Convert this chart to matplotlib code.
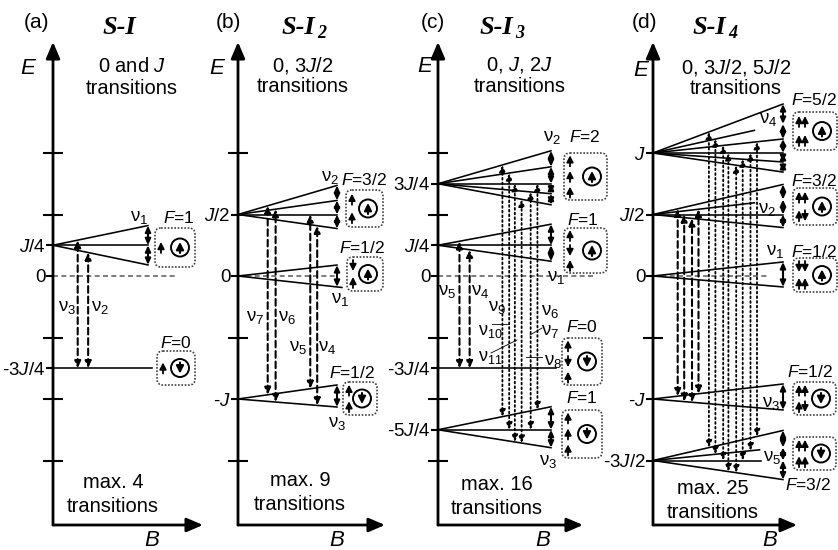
import matplotlib
matplotlib.use('Agg')
import matplotlib.pyplot as plt
from matplotlib.patches import FancyBboxPatch, Circle, FancyArrowPatch
from matplotlib.lines import Line2D
from matplotlib.transforms import Affine2D

plt.rcParams['font.family'] = ['Liberation Sans', 'DejaVu Sans']
plt.rcParams['mathtext.fontset'] = 'custom'
plt.rcParams['mathtext.rm'] = 'Liberation Sans'
plt.rcParams['mathtext.it'] = 'Liberation Sans:italic'
plt.rcParams['mathtext.bf'] = 'Liberation Sans:bold'

# ---------------- data: energies in units of J, field B normalised (fan end = 1) ----
B_MAX = 1.0

# (a) S-I
a_E0 = [0.25, -0.75]
a_split = [[0.16, 0.0, -0.16], [0.0]]
a_end = [[1, 1, 1], [1.04]]
a_dashed = [(0.26, 0, 0, 1, 0), (0.37, 0, 2, 1, 0)]
a_dotted = []
a_zero_end = 1.28
a_tick_vals = [0.25, 0, -0.75]
a_tick_labels = ['$J$/4', '0', '-3$J$/4']
a_minor = [1, 0.5, -0.5, -1, -1.5]

# (b) S-I2
b_E0 = [0.5, 0.0, -1.0]
b_split = [[0.236, 0.114, 0.0, -0.114], [0.089, -0.089], [0.114, -0.065]]
b_end = [[1, 1, 1, 1], [1, 1.05], [1, 1]]
b_dashed = [(0.30, 0, 0, 2, 0), (0.38, 0, 1, 2, 1), (0.73, 0, 2, 2, 0), (0.80, 0, 3, 2, 1)]
b_dotted = []
b_zero_end = 1.0
b_tick_vals = [0.5, 0, -1]
b_tick_labels = ['$J$/2', '0', '-$J$']
b_minor = [1, -0.5, -1.5]

# (c) S-I3
c_E0 = [0.75, 0.25, -0.75, -1.25]
c_split = [[0.268, 0.138, 0.0, -0.081, -0.171], [0.171, 0.0, -0.13], [0.0],
           [0.187, 0.0, -0.146]]
c_end = [[1, 1, 1, 1, 1], [1, 1, 1], [1.04], [1, 1, 1]]
c_dashed = [(0.19, 1, 0, 2, 0), (0.28, 1, 2, 2, 0)]
c_dotted = [(0.57, 0, 0, 3, 0), (0.63, 0, 1, 3, 1), (0.68, 0, 2, 3, 2),
            (0.74, 0, 4, 3, 2), (0.82, 0, 3, 3, 1), (0.88, 0, 2, 3, 0)]
c_zero_end = 1.39
c_tick_vals = [0.75, 0.25, 0, -0.75, -1.25]
c_tick_labels = ['3$J$/4', '$J$/4', '0', '-3$J$/4', '-5$J$/4']
c_minor = [1, 0.5, -0.5, -1, -1.5]

# (d) S-I4
d_E0 = [1.0, 0.5, 0.0, -1.0, -1.5]
d_split = [[0.398, 0.236, 0.114, 0.0, -0.073, -0.155], [0.244, 0.122, 0.0, -0.106],
           [0.114, -0.089], [0.122, -0.089], [0.244, 0.106, 0.0, -0.155]]
d_end = [[1, 0.78, 1, 1, 1, 1], [1, 0.78, 1, 1], [1, 1], [1, 1], [1, 0.82, 0.83, 1]]
d_dashed = [(0.19, 1, 0, 3, 0), (0.24, 1, 2, 3, 1), (0.30, 1, 3, 3, 1), (0.35, 1, 1, 3, 0)]
d_dotted = [(0.43, 0, 0, 4, 0), (0.48, 0, 1, 4, 1), (0.54, 0, 2, 4, 2), (0.58, 0, 3, 4, 3),
            (0.64, 0, 5, 4, 3), (0.69, 0, 4, 4, 2), (0.75, 0, 3, 4, 1), (0.80, 0, 2, 4, 0)]
d_zero_end = 0.88
d_tick_vals = [1, 0.5, 0, -1, -1.5]
d_tick_labels = ['$J$', '$J$/2', '0', '-$J$', '-3$J$/2']
d_minor = [-0.5]

# ---------------- layout ----------------
W, H = 838, 550
E0_PX, PX_PER_J, AX_TOP, AX_BOT = 276, 123, 42, 525
GEOM = {'a': (53, 148, 203), 'b': (238, 337, 385), 'c': (438, 551, 583), 'd': (653, 783, 797)}

fig = plt.figure(figsize=(W / 100, H / 100), dpi=100)
PX = Affine2D().scale(1 / W, -1 / H).translate(0, 1) + fig.transFigure

HEAD = '<|-|>,head_length=0.45,head_width=0.2'


def draw_panel(geom, E0, split, end, dashed, dotted, zero_end, tv, tl, minor):
    x0, xf, xa = geom
    ax = fig.add_axes([x0 / W, 1 - AX_BOT / H, (xa - x0) / W, (AX_BOT - AX_TOP) / H])
    ax.set_xlim(0, (xa - x0) / (xf - x0))
    ax.set_ylim((E0_PX - AX_BOT) / PX_PER_J, (E0_PX - AX_TOP) / PX_PER_J)
    ax.patch.set_alpha(0)
    for s in ax.spines.values():
        s.set_visible(False)
    ax.set_xticks([])
    ax.set_yticks(tv, tl)
    ax.set_yticks(minor, minor=True)
    ax.yaxis.set_minor_formatter(plt.NullFormatter())
    ax.tick_params(axis='y', which='major', direction='out', length=5, width=1.5,
                   labelsize=13.5, pad=0.5)
    ax.tick_params(axis='y', which='minor', direction='inout', length=14, width=1.5)
    arr = dict(arrowstyle='-|>,head_length=0.7,head_width=0.3', lw=2.0, color='k',
               shrinkA=0, shrinkB=0, mutation_scale=14)
    ax.annotate('', xy=(0, 1), xytext=(0, 0), xycoords='axes fraction', arrowprops=arr,
                annotation_clip=False)
    ax.annotate('', xy=(1, 0), xytext=(0, 0), xycoords='axes fraction', arrowprops=arr,
                annotation_clip=False)
    ax.plot([0, zero_end], [0, 0], color='0.4', lw=1.2, ls=(0, (3, 2)), clip_on=False)
    for e0, sp, en in zip(E0, split, end):
        for s, b in zip(sp, en):
            ax.plot([0, b], [e0, e0 + s * b], color='k', lw=1.15, clip_on=False)
        ys = sorted(e0 + s * B_MAX for s in sp)
        for y1, y2 in zip(ys[:-1], ys[1:]):
            ax.annotate('', xy=(B_MAX, y2), xytext=(B_MAX, y1),
                        arrowprops=dict(arrowstyle=HEAD, lw=1.5, color='k', shrinkA=0,
                                        shrinkB=0, mutation_scale=8),
                        annotation_clip=False)
    for trans, ls, lw in ((dashed, (0, (3.2, 1.8)), 1.5), (dotted, (0, (1, 1.6)), 1.3)):
        for b, m1, j1, m2, j2 in trans:
            y1 = E0[m1] + split[m1][j1] * b
            y2 = E0[m2] + split[m2][j2] * b
            ax.annotate('', xy=(b, y1), xytext=(b, y2),
                        arrowprops=dict(arrowstyle=HEAD, lw=lw, ls=ls, color='k',
                                        shrinkA=0, shrinkB=0, mutation_scale=9),
                        annotation_clip=False)
    return ax


draw_panel(GEOM['a'], a_E0, a_split, a_end, a_dashed, a_dotted, a_zero_end,
           a_tick_vals, a_tick_labels, a_minor)
draw_panel(GEOM['b'], b_E0, b_split, b_end, b_dashed, b_dotted, b_zero_end,
           b_tick_vals, b_tick_labels, b_minor)
draw_panel(GEOM['c'], c_E0, c_split, c_end, c_dashed, c_dotted, c_zero_end,
           c_tick_vals, c_tick_labels, c_minor)
draw_panel(GEOM['d'], d_E0, d_split, d_end, d_dashed, d_dotted, d_zero_end,
           d_tick_vals, d_tick_labels, d_minor)


def T(x, y, s, size=14, **kw):
    kw.setdefault('ha', 'center')
    kw.setdefault('va', 'center')
    return fig.text(x, y, s, transform=PX, fontsize=size, **kw)


def title(x, y, sub):
    T(x, y, 'S-I', 19, ha='left', family='Liberation Serif', weight='bold', style='italic')
    if sub:
        T(x + 35, y + 7, sub, 13, ha='left', family='Liberation Serif', weight='bold',
          style='italic')


def small_arrow(x, y, up, half=5.5, lw=1.3, scale=7):
    y1, y2 = (y + half, y - half) if up else (y - half, y + half)
    fig.add_artist(FancyArrowPatch((x, y1), (x, y2), transform=PX,
                                   arrowstyle='-|>,head_length=0.55,head_width=0.28',
                                   mutation_scale=scale, lw=lw, color='k',
                                   shrinkA=0, shrinkB=0))


def spin_box(x, y, w, h, rows, core):
    fig.add_artist(FancyBboxPatch((x, y), w, h, boxstyle='round,pad=0,rounding_size=6',
                                  transform=PX, fill=False, ec='0.25', lw=1.2,
                                  ls=(0, (1, 1))))
    n = len(rows)
    for i, row in enumerate(rows):
        yy = y + h * (i + 0.5) / n
        for k, ch in enumerate(row):
            small_arrow(x + 6 + 6 * k, yy, ch == '↑', half=min(5.5, h / n / 2 - 0.5))
    cx, cy = x + w - 15, y + h / 2
    fig.add_artist(Circle((cx, cy), 9, transform=PX, fill=False, lw=1.4, ec='k'))
    small_arrow(cx, cy, core == '↑', half=5.5, lw=1.5, scale=8)


# panel letters, titles, headers
for (x, lab) in [(36, '(a)'), (228, '(b)'), (433, '(c)'), (644, '(d)')]:
    T(x, 23, lab, 15)
title(103, 27, '')
title(282, 27, '2')
title(480, 27, '3')
title(693, 27, '4')

headers = [(132, 67, '0 and $J$'), (303, 65, '0, 3$J$/2'), (520, 65, '0, $J$, 2$J$'),
           (736, 67, '0, 3$J$/2, 5$J$/2')]
for x, y, s in headers:
    T(x, y, s, 14.5)
    T(x, y + 21, 'transitions', 14.5)

for x, y in [(29, 68), (218, 68), (426, 66), (642, 70)]:
    T(x, y, '$E$', 16)
for x in [152, 337, 543, 770]:
    T(x, 541, '$B$', 16)

for x, y, n in [(113, 482, '4'), (300, 480, '9'), (497, 485, '16'), (713, 488, '25')]:
    T(x, y, 'max. ' + n, 14.5)
    T(x, y + 24, 'transitions', 14.5)

# nu labels
nus = [(139, 218, '1'), (67, 308, '3'), (100, 308, '2'),
       (330, 178, '2'), (340, 300, '1'), (337, 423, '3'), (255, 317, '7'), (287, 317, '6'),
       (298, 347, '5'), (327, 348, '4'),
       (552, 137, '2'), (556, 278, '1'), (548, 462, '3'), (447, 291, '5'), (480, 292, '4'),
       (497, 308, '9'), (490, 331, '10'), (490, 357, '11'), (550, 311, '6'),
       (550, 331, '7'), (553, 361, '8'),
       (768, 120, '4'), (767, 210, '2'), (775, 252, '1'), (771, 404, '3'), (772, 458, '5')]
for x, y, n in nus:
    T(x, y, 'ν$_{%s}$' % n, 13 if len(n) > 1 else 13.5)

# F labels
Fs = [(179, 218, '1'), (176, 343, '0'),
      (364, 180, '3/2'), (362, 248, '1/2'), (352, 373, '1/2'),
      (585, 137, '2'), (583, 220, '1'), (582, 327, '0'), (582, 398, '1'),
      (814, 100, '5/2'), (814, 181, '3/2'), (814, 252, '1/2'), (810, 372, '1/2'),
      (808, 485, '3/2')]
for x, y, f in Fs:
    T(x, y, '$F$=' + f, 12.5)

# leader lines (panel c)
for (x1, y1), (x2, y2) in [((492, 324), (508, 324)), ((491, 353), (517, 340)),
                           ((530, 335), (542, 328)), ((526, 357), (542, 357))]:
    fig.add_artist(Line2D([x1, x2], [y1, y2], transform=PX, color='k', lw=0.6))

# spin-configuration boxes
boxes = [(155, 228, 40, 39, ['↑'], '↑'), (157, 351, 38, 34, ['↑'], '↓'),
         (346, 190, 37, 37, ['↑', '↑'], '↑'), (347, 257, 36, 34, ['↓', '↑'], '↑'),
         (343, 382, 34, 33, ['↑', '↑'], '↓'),
         (564, 153, 43, 47, ['↑', '↑', '↑'], '↑'), (564, 228, 43, 45, ['↑', '↓', '↑'], '↑'),
         (562, 338, 40, 47, ['↑', '↓', '↑'], '↓'), (562, 410, 40, 48, ['↑', '↑', '↑'], '↓'),
         (793, 112, 44, 38, ['↑↑', '↑↑'], '↑'), (793, 188, 44, 37, ['↑↑', '↑↓'], '↑'),
         (793, 258, 44, 34, ['↓↓', '↑↑'], '↑'), (793, 382, 43, 33, ['↑↑', '↑↓'], '↓'),
         (793, 437, 43, 33, ['↑↑', '↑↑'], '↓')]
for b in boxes:
    spin_box(*b)

fig.savefig('out.png', dpi=100)
